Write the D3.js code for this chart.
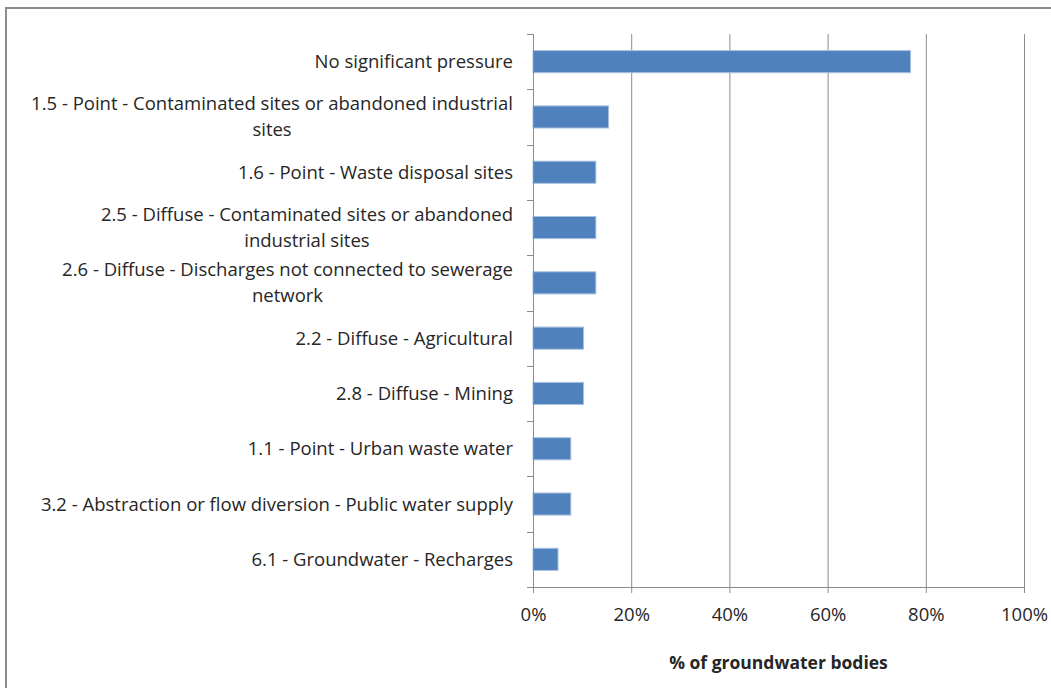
<!DOCTYPE html>
<html>
<head>
<meta charset="utf-8">
<script src="https://cdn.jsdelivr.net/npm/d3@7"></script>
<style>
  body { margin: 0; background: #fff; }
  svg { display: block; }
  text { font-family: "Open Sans", Lato, sans-serif; fill: #262626; }
</style>
</head>
<body>
<div id="vis"></div>
<script>
const FRAME_WIDTH = 1051;
const FRAME_HEIGHT = 688;
const MARGINS = {left: 533, right: 27, top: 34, bottom: 101};
const FONT = '"Open Sans", Lato, sans-serif';
const FONT_SIZE = '18.5px';

// categories, top to bottom (each entry is the wrapped lines of the label)
const categories = [
  ['No significant pressure'],
  ['1.5 - Point - Contaminated sites or abandoned industrial', 'sites'],
  ['1.6 - Point - Waste disposal sites'],
  ['2.5 - Diffuse - Contaminated sites or abandoned', 'industrial sites'],
  ['2.6 - Diffuse - Discharges not connected to sewerage', 'network'],
  ['2.2 - Diffuse - Agricultural'],
  ['2.8 - Diffuse - Mining'],
  ['1.1 - Point - Urban waste water'],
  ['3.2 - Abstraction or flow diversion - Public water supply'],
  ['6.1 - Groundwater - Recharges']
];
// % of groundwater bodies
const values = [76.9, 15.4, 12.8, 12.8, 12.8, 10.3, 10.3, 7.7, 7.7, 5.1];
const xTicks = [0, 20, 40, 60, 80, 100];
const xTitle = '% of groundwater bodies';

const VIS_WIDTH = FRAME_WIDTH - MARGINS.left - MARGINS.right;
const VIS_HEIGHT = FRAME_HEIGHT - MARGINS.top - MARGINS.bottom;

const svg = d3.select('#vis')
  .append('svg')
    .attr('width', FRAME_WIDTH)
    .attr('height', FRAME_HEIGHT);

// chart border
svg.append('rect')
  .attr('x', 6).attr('y', 8)
  .attr('width', FRAME_WIDTH + 10).attr('height', FRAME_HEIGHT + 10)
  .attr('fill', 'none')
  .attr('stroke', '#8c8c8c')
  .attr('stroke-width', 2);

const X_SCALE = d3.scaleLinear().domain([0, 100]).range([0, VIS_WIDTH]);
const Y_SCALE = d3.scaleBand()
  .domain(d3.range(categories.length))
  .range([0, VIS_HEIGHT])
  .paddingInner(0.6)
  .paddingOuter(0.3);

const g = svg.append('g')
  .attr('transform', `translate(${MARGINS.left},${MARGINS.top})`);

// vertical gridlines
g.selectAll('.grid')
  .data(xTicks.slice(1))
  .enter()
  .append('line')
    .attr('x1', d => X_SCALE(d) + 0.5)
    .attr('x2', d => X_SCALE(d) + 0.5)
    .attr('y1', 0)
    .attr('y2', VIS_HEIGHT)
    .attr('stroke', '#8c8c8c')
    .attr('stroke-width', 1);

// bars
g.selectAll('.bar')
  .data(values)
  .enter()
  .append('rect')
    .attr('x', 0)
    .attr('y', (d, i) => Y_SCALE(i))
    .attr('width', d => X_SCALE(d))
    .attr('height', Y_SCALE.bandwidth())
    .attr('fill', '#4f81bd')
    .attr('stroke', '#a9c1e0')
    .attr('stroke-width', 1);

// x axis
const xAxis = g.append('g')
  .attr('transform', `translate(0,${VIS_HEIGHT})`)
  .call(d3.axisBottom(X_SCALE).tickValues(xTicks).tickSize(6).tickSizeOuter(0)
    .tickFormat(d => d + '%'));
xAxis.select('.domain').attr('stroke', '#8c8c8c');
xAxis.selectAll('.tick line').attr('stroke', '#8c8c8c');
xAxis.selectAll('.tick text')
  .attr('font-size', FONT_SIZE)
  .attr('fill', '#262626')
  .attr('font-family', FONT)
  .attr('dy', '1.35em');

// y axis line + ticks at category boundaries
g.append('line')
  .attr('x1', 0.5).attr('x2', 0.5)
  .attr('y1', 0).attr('y2', VIS_HEIGHT + 6)
  .attr('stroke', '#8c8c8c');
const STEP = VIS_HEIGHT / categories.length;
g.selectAll('.ytick')
  .data(d3.range(categories.length + 1))
  .enter()
  .append('line')
    .attr('x1', -6).attr('x2', 0)
    .attr('y1', d => Math.round(d * STEP) + 0.5)
    .attr('y2', d => Math.round(d * STEP) + 0.5)
    .attr('stroke', '#8c8c8c');

// category labels: right aligned block, wrapped lines centred in the block
const LINE_H = 26;
categories.forEach((lines, i) => {
  const cy = Y_SCALE(i) + Y_SCALE.bandwidth() / 2;
  const top = cy - (lines.length - 1) * LINE_H / 2;
  const texts = lines.map((t, j) => g.append('text')
    .attr('y', top + j * LINE_H)
    .attr('dy', '0.35em')
    .attr('font-size', FONT_SIZE)
    .text(t));
  const widths = texts.map(t => t.node().getComputedTextLength());
  const blockW = d3.max(widths);
  const right = -20;
  texts.forEach(t => t
    .attr('x', right - blockW / 2)
    .attr('text-anchor', 'middle'));
});

// axis title
svg.append('text')
  .attr('x', MARGINS.left + VIS_WIDTH / 2)
  .attr('y', 663)
  .attr('dy', '0.35em')
  .attr('text-anchor', 'middle')
  .attr('font-size', '17.5px')
  .attr('font-weight', 'bold')
  .text(xTitle);
</script>
</body>
</html>
